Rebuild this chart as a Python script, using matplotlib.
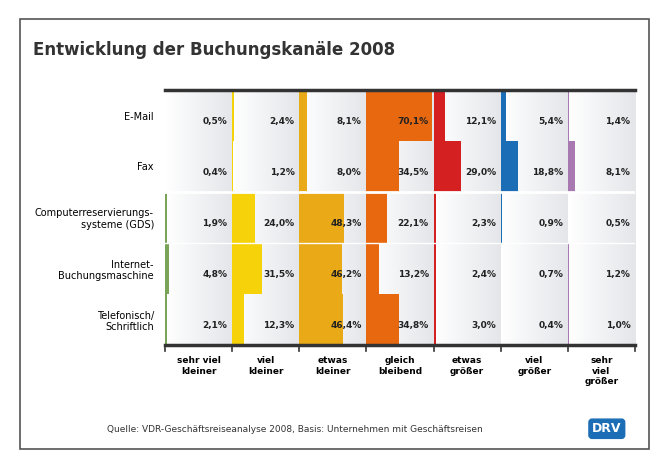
import matplotlib
matplotlib.use("Agg")
import matplotlib.pyplot as plt
import numpy as np
from matplotlib.patches import Rectangle
from matplotlib.colors import LinearSegmentedColormap

channels = ["E-Mail", "Fax", "Computerreservierungs-\nsysteme (GDS)", "Internet-\nBuchungsmaschine", "Telefonisch/\nSchriftlich"]
categories = ["sehr viel\nkleiner", "viel\nkleiner", "etwas\nkleiner", "gleich\nbleibend", "etwas\ngrößer", "viel\ngrößer", "sehr\nviel\ngrößer"]
values = [
    [0.5, 2.4, 8.1, 70.1, 12.1, 5.4, 1.4],
    [0.4, 1.2, 8.0, 34.5, 29.0, 18.8, 8.1],
    [1.9, 24.0, 48.3, 22.1, 2.3, 0.9, 0.5],
    [4.8, 31.5, 46.2, 13.2, 2.4, 0.7, 1.2],
    [2.1, 12.3, 46.4, 34.8, 3.0, 0.4, 1.0],
]
colors = ["#7aa35a", "#f5d20a", "#eaa916", "#e8680f", "#d42020", "#1b6db5", "#a878b0"]
scale = 72.0

fig = plt.figure(figsize=(6.69, 4.75), dpi=100)
fig.patch.set_facecolor("white")
fig.add_artist(Rectangle((0.03, 0.055), 0.94, 0.905, transform=fig.transFigure, fill=False, ec="#555555", lw=1.2))
fig.text(0.05, 0.885, "Entwicklung der Buchungskanäle 2008", fontsize=12, fontweight="bold", color="#333333")

ax = fig.add_axes([165/669, 1-345/475, 470/669, 255/475])
ncol = len(categories)
nrow = len(channels)
ax.set_xlim(0, ncol)
ax.set_ylim(nrow, 0)
cm = LinearSegmentedColormap.from_list("bg", ["#ffffff", "#e4e6ea"])
grad = np.linspace(0, 1, 50).reshape(1, -1)
for j in range(ncol):
    ax.imshow(grad, extent=(j, j+1, nrow, 0), cmap=cm, vmin=0, vmax=1, aspect="auto", zorder=0)
for i, row in enumerate(values):
    for j, v in enumerate(row):
        ax.barh(i + 0.5, v/scale, height=1.0, left=j, color=colors[j], zorder=2, lw=0)
        s = f"{v:.1f}%".replace(".", ",")
        ax.text(j + 0.93, i + 0.62, s, ha="right", va="center", fontsize=6.5, fontweight="bold", zorder=3, color="#222222")
ax.axhline(2, color="white", lw=2, zorder=4)
ax.axhline(3, color="white", lw=1, zorder=4)
for j in range(ncol+1):
    ax.plot([j, j], [nrow, nrow+0.12], color="#333333", lw=1.2, clip_on=False)
ax.set_yticks(np.arange(nrow) + 0.5)
ax.set_yticklabels(channels, fontsize=7, ha="right")
ax.set_xticks(np.arange(ncol) + 0.5)
ax.set_xticklabels(categories, fontsize=6.5, fontweight="bold", va="top")
ax.tick_params(length=0, pad=8)
for s in ["left", "right"]:
    ax.spines[s].set_visible(False)
for s in ["top", "bottom"]:
    ax.spines[s].set_linewidth(2.5)
    ax.spines[s].set_color("#333333")

fig.text(0.16, 0.09, "Quelle: VDR-Geschäftsreiseanalyse 2008, Basis: Unternehmen mit Geschäftsreisen", fontsize=6.5, color="#333333")
fig.text(0.885, 0.09, "DRV", fontsize=9, fontweight="bold", color="white",
         bbox=dict(boxstyle="round,pad=0.25", fc="#1b6db5", ec="#1b6db5"))
fig.savefig("out.png", dpi=100)
